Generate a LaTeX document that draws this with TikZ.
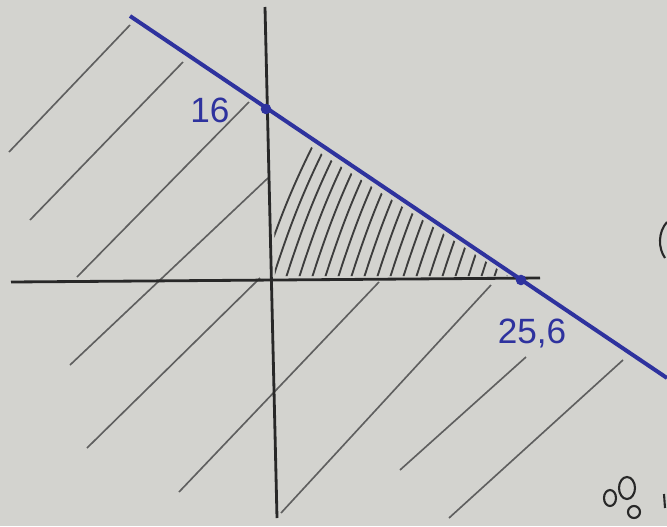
\documentclass[tikz,border=0pt]{standalone}
\usepackage{fontspec}
\setsansfont{Liberation Sans}
\usetikzlibrary{calc}
\definecolor{PlotPaper}{RGB}{211,211,207}
\definecolor{PlotInk}{RGB}{40,40,40}
\definecolor{PlotBlue}{RGB}{46,50,158}
\definecolor{PlotPencil}{RGB}{95,95,95}
\tikzset{
  plot/axis/.style={draw=PlotInk, line width=2.4pt},
  plot/bound/.style={draw=PlotBlue, line width=3.4pt},
  plot/hatch/.style={draw=PlotPencil, line width=1.4pt},
  plot/fillhatch/.style={draw=PlotInk!90, line width=1.6pt, line cap=round},
  plot/dot/.style={circle, fill=PlotBlue, inner sep=0pt, minimum size=9pt},
  plot/label/.style={font=\sffamily\fontsize{30}{32}\selectfont, text=PlotBlue},
  plot/scribble/.style={draw=PlotInk, line width=1.8pt}
}

\begin{document}
\begin{tikzpicture}[x=0.03cm,y=-0.03cm]
  \fill[PlotPaper] (0,0) rectangle (667,526);
  \useasboundingbox (0,0) rectangle (667,526);
  % outer hatching
  \foreach \xa/\ya/\xb/\yb in {130/25/9/152, 183/62/30/220, 249/102/77/277,
      268/178/70/365, 260/278/87/448, 379/282/179/492, 491/285/281/513,
      526/357/400/470, 623/360/449/518}
    \draw[plot/hatch] (\xa,\ya) -- (\xb,\yb);
  % axes
  \coordinate (ytop) at (265,7);
  \coordinate (ybot) at (277,518);
  \coordinate (xleft) at (11,282);
  \coordinate (xright) at (540,278);
  \draw[plot/axis] (ytop) -- (ybot);
  \draw[plot/axis] (xleft) -- (xright);
  % feasible region
  \coordinate (O) at (268,280);
  \coordinate (yint) at (266,109);
  \coordinate (xint) at (521,280);
  \begin{scope}
    \clip (273,122) -- (275,276) -- (508,276) -- cycle;
    \foreach \i in {0,...,20}
      \draw[plot/fillhatch] (258+13*\i,284) to[bend left=5] ++(70,-168);
  \end{scope}
  % boundary line
  \coordinate (bstart) at (130,16);
  \coordinate (bfinish) at (667,378);
  \draw[plot/bound] (bstart) -- (bfinish);
  \node[plot/dot] (ydot) at (yint) {};
  \node[plot/dot] (xdot) at (xint) {};
  \node[plot/label] (ylab) at (210,110) {16};
  \node[plot/label] (xlab) at (532,333) {25,6};
  % stray marks
  \draw[plot/scribble] (667,222) .. controls (658,232) and (658,248) .. (665,258);
  \draw[plot/scribble] (610,498) ellipse [x radius=6, y radius=8];
  \draw[plot/scribble] (627,488) ellipse [x radius=8, y radius=11];
  \draw[plot/scribble] (634,512) ellipse [x radius=6, y radius=6];
  \draw[plot/scribble] (664,494) -- (665,508);
\end{tikzpicture}
\end{document}
